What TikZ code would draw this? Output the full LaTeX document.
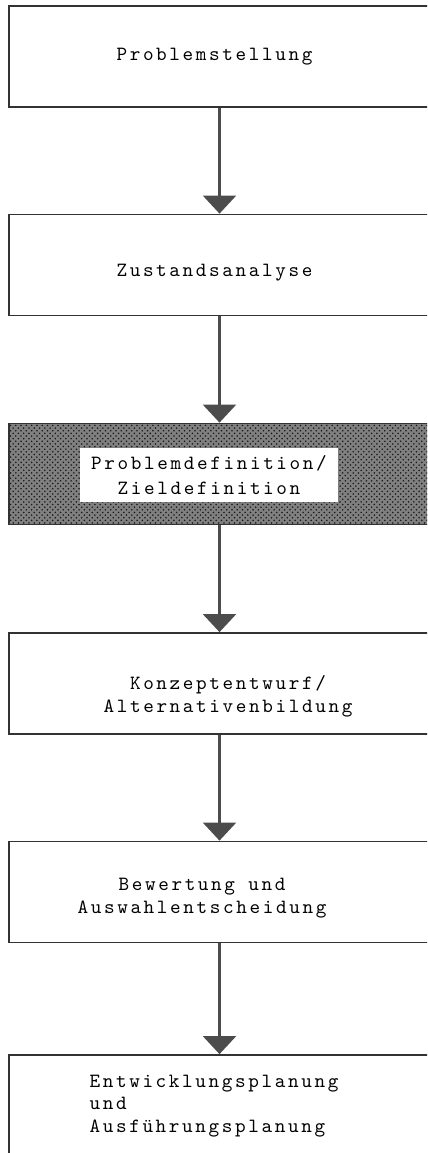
\documentclass[tikz,border=0pt]{standalone}
\usepackage{fontspec}
\newfontfamily\typew{lmmono10-regular.otf}[LetterSpace=13]
\usepackage{tikz}
\usetikzlibrary{arrows.meta, patterns}

\begin{document}
\begin{tikzpicture}[font=\typew\fontsize{11.5}{13}\selectfont,
          blk/.style={draw=black!80, line width=1pt,
                      minimum width=8.42cm, minimum height=2.02cm},
          txt/.style={align=center, inner sep=1pt},
          arr/.style={-{Triangle[width=0.66cm, length=0.36cm]},
                      line width=1.2pt, black!70}]
          \useasboundingbox (0,0) rectangle (8.54,-23.06);
          \clip (0,0) rectangle (8.54,-23.06);
          % boxes
          \node[blk] (stell) at (4.39,-1.13) {};
          \node[blk] (zust) at (4.39,-5.30) {};
          \node[blk, preaction={fill=black!50}, pattern=crosshatch dots,
                pattern color=black!90] (pdef) at (4.39,-9.48) {};
          \node[blk] (konz) at (4.39,-13.67) {};
          \node[blk] (bew) at (4.39,-17.84) {};
          \node[blk] (plan) at (4.39,-22.11) {};
          % texts
          \node[txt] (stelltxt) at (4.29,-1.14) {Problemstellung};
          \node[txt] (zusttxt) at (4.29,-5.46) {Zustandsanalyse};
          \node[txt, fill=white, minimum width=5.16cm,
                minimum height=1.08cm] (pdeftxt) at (4.18,-9.50)
            {Problemdefinition/\\[1.7pt]Zieldefinition};
          \node[txt] (konztxt) at (4.56,-13.92)
            {Konzeptentwurf/\\Alternativenbildung};
          \node[txt] (bewtxt) at (4.04,-17.96)
            {Bewertung und\\Auswahlentscheidung};
          \node[txt, align=left] (plantxt) at (4.28,-22.12)
            {Entwicklungsplanung\\und\\Ausführungsplanung};
          % arrows
          \draw[arr] (stell) -- (zust);
          \draw[arr] (zust) -- (pdef);
          \draw[arr] (pdef) -- (konz);
          \draw[arr] (konz) -- (bew);
          \draw[arr] (bew) -- (plan);
        \end{tikzpicture}
\end{document}
